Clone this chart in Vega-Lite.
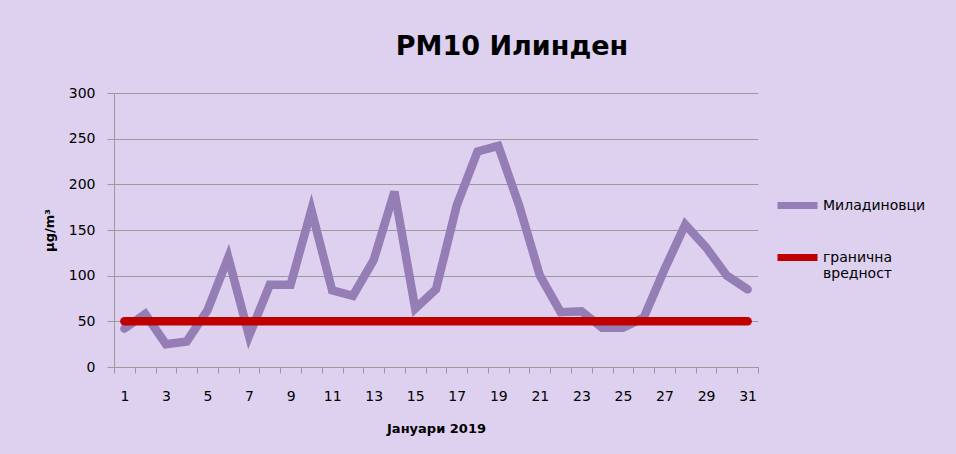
{
  "$schema": "https://vega.github.io/schema/vega-lite/v6.json",
  "width": 644,
  "height": 274,
  "autosize": {"type": "none"},
  "padding": {"left": 114, "top": 93, "right": 198, "bottom": 87},
  "background": "#ddd1ef",
  "title": {"text": "PM10 Илинден", "fontSize": 27, "fontWeight": "bold", "color": "#000000", "anchor": "middle", "dx": 76, "offset": 25},
  "data": {"values": [
    {"day": 1, "value": 42, "series": "Миладиновци"},
    {"day": 2, "value": 58, "series": "Миладиновци"},
    {"day": 3, "value": 25, "series": "Миладиновци"},
    {"day": 4, "value": 28, "series": "Миладиновци"},
    {"day": 5, "value": 62, "series": "Миладиновци"},
    {"day": 6, "value": 120, "series": "Миладиновци"},
    {"day": 7, "value": 34, "series": "Миладиновци"},
    {"day": 8, "value": 90, "series": "Миладиновци"},
    {"day": 9, "value": 90, "series": "Миладиновци"},
    {"day": 10, "value": 172, "series": "Миладиновци"},
    {"day": 11, "value": 84, "series": "Миладиновци"},
    {"day": 12, "value": 78, "series": "Миладиновци"},
    {"day": 13, "value": 117, "series": "Миладиновци"},
    {"day": 14, "value": 192, "series": "Миладиновци"},
    {"day": 15, "value": 64, "series": "Миладиновци"},
    {"day": 16, "value": 85, "series": "Миладиновци"},
    {"day": 17, "value": 177, "series": "Миладиновци"},
    {"day": 18, "value": 236, "series": "Миладиновци"},
    {"day": 19, "value": 242, "series": "Миладиновци"},
    {"day": 20, "value": 177, "series": "Миладиновци"},
    {"day": 21, "value": 100, "series": "Миладиновци"},
    {"day": 22, "value": 60, "series": "Миладиновци"},
    {"day": 23, "value": 61, "series": "Миладиновци"},
    {"day": 24, "value": 43, "series": "Миладиновци"},
    {"day": 25, "value": 43, "series": "Миладиновци"},
    {"day": 26, "value": 54, "series": "Миладиновци"},
    {"day": 27, "value": 107, "series": "Миладиновци"},
    {"day": 28, "value": 156, "series": "Миладиновци"},
    {"day": 29, "value": 131, "series": "Миладиновци"},
    {"day": 30, "value": 100, "series": "Миладиновци"},
    {"day": 31, "value": 85, "series": "Миладиновци"},
    {"day": 1, "value": 50, "series": "гранична вредност"},
    {"day": 2, "value": 50, "series": "гранична вредност"},
    {"day": 3, "value": 50, "series": "гранична вредност"},
    {"day": 4, "value": 50, "series": "гранична вредност"},
    {"day": 5, "value": 50, "series": "гранична вредност"},
    {"day": 6, "value": 50, "series": "гранична вредност"},
    {"day": 7, "value": 50, "series": "гранична вредност"},
    {"day": 8, "value": 50, "series": "гранична вредност"},
    {"day": 9, "value": 50, "series": "гранична вредност"},
    {"day": 10, "value": 50, "series": "гранична вредност"},
    {"day": 11, "value": 50, "series": "гранична вредност"},
    {"day": 12, "value": 50, "series": "гранична вредност"},
    {"day": 13, "value": 50, "series": "гранична вредност"},
    {"day": 14, "value": 50, "series": "гранична вредност"},
    {"day": 15, "value": 50, "series": "гранична вредност"},
    {"day": 16, "value": 50, "series": "гранична вредност"},
    {"day": 17, "value": 50, "series": "гранична вредност"},
    {"day": 18, "value": 50, "series": "гранична вредност"},
    {"day": 19, "value": 50, "series": "гранична вредност"},
    {"day": 20, "value": 50, "series": "гранична вредност"},
    {"day": 21, "value": 50, "series": "гранична вредност"},
    {"day": 22, "value": 50, "series": "гранична вредност"},
    {"day": 23, "value": 50, "series": "гранична вредност"},
    {"day": 24, "value": 50, "series": "гранична вредност"},
    {"day": 25, "value": 50, "series": "гранична вредност"},
    {"day": 26, "value": 50, "series": "гранична вредност"},
    {"day": 27, "value": 50, "series": "гранична вредност"},
    {"day": 28, "value": 50, "series": "гранична вредност"},
    {"day": 29, "value": 50, "series": "гранична вредност"},
    {"day": 30, "value": 50, "series": "гранична вредност"},
    {"day": 31, "value": 50, "series": "гранична вредност"}
  ]},
  "mark": {"type": "line", "strokeWidth": 8.5, "strokeCap": "round", "strokeJoin": "miter"},
  "encoding": {
    "x": {
      "field": "day", "type": "ordinal",
      "scale": {"type": "band", "paddingInner": 0, "paddingOuter": 0},
      "axis": {
        "title": "Јануари 2019", "labelAngle": 0, "tickBand": "extent",
        "labelExpr": "datum.value % 2 == 1 ? datum.label : ''",
        "domainColor": "#9a9a9a", "tickColor": "#9a9a9a", "tickSize": 6,
        "labelPadding": 16, "labelFontSize": 14, "labelColor": "#000000",
        "titleFontSize": 13, "titleFontWeight": "bold", "titleColor": "#000000", "titlePadding": 19,
        "grid": false
      }
    },
    "y": {
      "field": "value", "type": "quantitative",
      "scale": {"domain": [0, 300]},
      "axis": {
        "title": "μg/m³", "values": [0, 50, 100, 150, 200, 250, 300],
        "gridColor": "#9a9a9a", "gridOpacity": 1, "domainColor": "#9a9a9a", "tickColor": "#9a9a9a",
        "tickSize": 7, "labelPadding": 12, "labelFontSize": 14, "labelColor": "#000000",
        "titleFontSize": 13, "titleFontWeight": "bold", "titleColor": "#000000", "titlePadding": 12
      }
    },
    "color": {
      "field": "series", "type": "nominal",
      "scale": {"domain": ["Миладиновци", "гранична вредност"], "range": ["#957db5", "#c00000"]},
      "legend": {
        "title": null, "orient": "none", "legendX": 660, "legendY": 89,
        "symbolType": "stroke", "symbolSize": 1600, "symbolStrokeWidth": 7,
        "labelFontSize": 14, "labelColor": "#000000", "rowPadding": 14, "labelOffset": 2,
        "labelExpr": "datum.label == 'гранична вредност' ? ['гранична', 'вредност'] : datum.label"
      }
    }
  },
  "config": {"font": "DejaVu Sans", "view": {"stroke": null}}
}
